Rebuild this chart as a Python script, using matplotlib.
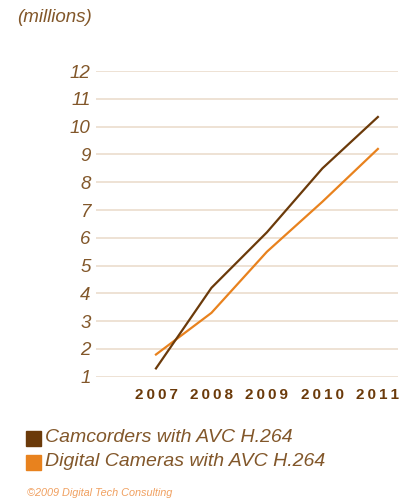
import matplotlib
matplotlib.use("Agg")
import matplotlib.pyplot as plt
from matplotlib.patches import Rectangle

# data (millions of units)
years = [2007, 2008, 2009, 2010, 2011]
camcorders = [1.3, 4.2, 6.2, 8.5, 10.35]
cameras = [1.8, 3.3, 5.5, 7.3, 9.2]
y_ticks = list(range(1, 13))
series_names = ["Camcorders with AVC H.264", "Digital Cameras with AVC H.264"]

brown = "#6B3A0A"
orange = "#E8821E"
text_col = "#82572A"
grid_col = "#EEE2D4"

plt.rcParams['font.family'] = ['Liberation Sans', 'DejaVu Sans']

fig = plt.figure(figsize=(4.14, 5.01), dpi=100)
ax = fig.add_axes([0.232, 0.248, 0.729, 0.610])

ax.plot(years, camcorders, color=brown, lw=1.6, clip_on=False, zorder=3)
ax.plot(years, cameras, color=orange, lw=1.6, clip_on=False, zorder=2)

ax.set_ylim(1, 12)
ax.set_xlim(2005.92, 2011.36)
ax.set_yticks(y_ticks)
ax.set_xticks(years)
for y in y_ticks:
    ax.axhline(y, color=grid_col, lw=1.4, zorder=1)

for s in ax.spines.values():
    s.set_visible(False)
ax.tick_params(length=0)
ax.set_yticklabels([str(v) for v in y_ticks], fontsize=13.5, style='italic', color=text_col)
# letter-spaced year labels
ax.set_xticklabels(["\u2009".join(str(v)) for v in years], fontsize=11,
                   fontweight='bold', color=brown)
ax.tick_params(axis='y', pad=4)
ax.tick_params(axis='x', pad=8)

fig.text(0.041, 0.966, "(millions)", fontsize=13.5, style='italic', color=text_col, va='center')

# legend
colors = [brown, orange]
rows_y = [438, 462]
for name, c, yy in zip(series_names, colors, rows_y):
    fig.patches.append(Rectangle((26 / 414, 1 - (yy + 8) / 501), 15 / 414, 15 / 501,
                                 transform=fig.transFigure, color=c))
    fig.text(45 / 414, 1 - yy / 501, name, fontsize=14, style='italic', color=text_col, va='center')

fig.text(27 / 414, 1 - 493 / 501, "\u00a92009 Digital Tech Consulting", fontsize=7.8,
         style='italic', color="#F0A060", va='center')

fig.savefig("out.png", dpi=100, facecolor='white')
